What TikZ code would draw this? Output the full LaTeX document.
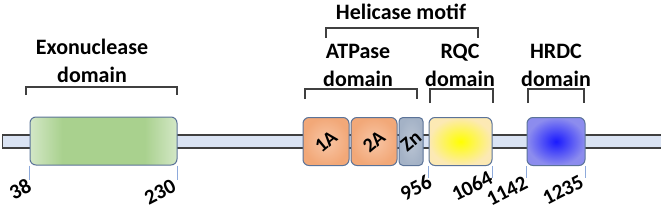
\documentclass[tikz,border=0pt]{standalone}
\usepackage{fontspec}
\setmainfont{Carlito}
\usepackage{tikz}
\usetikzlibrary{positioning}

\definecolor{BarBlue}{HTML}{DAE3F3}
\definecolor{EdgeBlue}{HTML}{5B7398}
\definecolor{TickBlue}{HTML}{8EAADB}
\definecolor{BracketGray}{HTML}{404040}
\definecolor{ExoGreen}{HTML}{A9D18E}
\definecolor{ExoLight}{HTML}{D3E7C6}
\definecolor{AtpOrange}{HTML}{F2A878}
\definecolor{AtpLight}{HTML}{F8C6A6}
\definecolor{ZnGray}{HTML}{A4B2C6}
\definecolor{RqcCream}{HTML}{FCE9B4}
\definecolor{HrdcBlue}{HTML}{8C8CEE}

% light edges, green middle (TikZ maps the box onto 25bp..75bp)
\pgfdeclarehorizontalshading{exoshade}{100bp}{color(0bp)=(ExoLight); color(25bp)=(ExoLight); color(36bp)=(ExoGreen); color(64bp)=(ExoGreen); color(75bp)=(ExoLight); color(100bp)=(ExoLight)}

\begin{document}
\begin{tikzpicture}[x=1pt, y=-1pt,
    backbone/.style={rectangle, draw=BracketGray, fill=BarBlue, line width=1.2pt, minimum height=13pt, inner sep=0pt, anchor=west},
    dombox/.style={rectangle, draw=EdgeBlue, line width=1pt, rounded corners=6pt, minimum height=48pt, inner sep=0pt, font=\fontsize{20}{20}\selectfont\bfseries},
    label/.style={align=center, font=\fontsize{22}{28}\selectfont\bfseries, text=black},
    num/.style={font=\fontsize{21}{21}\selectfont\bfseries, rotate=27, inner sep=0pt},
    bracket/.style={draw=BracketGray, line width=1.3pt},
    tick/.style={draw=TickBlue, line width=0.8pt}]

    \useasboundingbox (0,0) rectangle (661,222);

    % protein backbone
    \node [backbone, minimum width=680pt] (chain) at (2,141.5) {};

    % domains
    \node [dombox, minimum width=147pt, shading=exoshade] (exo) at (103.5,141) {};
    \node [dombox, minimum width=46pt, inner color=AtpLight, outer color=AtpOrange] (oneA) at (326,141.5) {\rotatebox{40}{1A}};
    \node [dombox, minimum width=46pt, inner color=AtpLight, outer color=AtpOrange] (twoA) at (374,141.5) {\rotatebox{40}{2A}};
    \node [dombox, minimum width=24pt, rounded corners=4pt, inner color=ZnGray!75, outer color=ZnGray] (zn) at (411,141.5) {\rotatebox{40}{Zn}};
    \node [dombox, minimum width=63pt, inner color=yellow, outer color=RqcCream] (rqc) at (460.5,141.5) {};
    \node [dombox, minimum width=58pt, inner color=blue!90, outer color=HrdcBlue] (hrdc) at (556,141.5) {};

    % position ticks
    \draw [tick] (exo.south west) -- ++(0,14);
    \draw [tick] (exo.south east) -- ++(0,14);
    \draw [tick] (rqc.south west) -- ++(0,12);
    \draw [tick] (rqc.south east) -- ++(0,12);
    \draw [tick] (hrdc.south west) -- ++(0,12);
    \draw [tick] (hrdc.south east) -- ++(0,12);

    % residue numbers
    \node [num] (n38) at (20,189) {38};
    \node [num] (n230) at (160,192) {230};
    \node [num] (n956) at (416,188) {956};
    \node [num] (n1064) at (472,186) {1064};
    \node [num] (n1142) at (507,191) {1142};
    \node [num] (n1235) at (563,190) {1235};

    % brackets
    \draw [bracket] (26,95) -- (26,87) -- (177,87) -- (177,95);
    \draw [bracket] (305,99) -- (305,89) -- (417,89) -- (417,99);
    \draw [bracket] (430,103) -- (430,89) -- (493,89) -- (493,103);
    \draw [bracket] (528,103) -- (528,89) -- (584,89) -- (584,103);
    \draw [bracket] (326,38) -- (326,28) -- (478,28) -- (478,38);

    % domain names
    \node [label] (exoname) at (92,61) {Exonuclease\\domain};
    \node [label] (atpname) at (358,65) {ATPase\\domain};
    \node [label] (rqcname) at (460,65) {RQC\\domain};
    \node [label] (hrdcname) at (556,65) {HRDC\\domain};
    \node [label] (helname) at (401,12) {Helicase motif};
\end{tikzpicture}
\end{document}
